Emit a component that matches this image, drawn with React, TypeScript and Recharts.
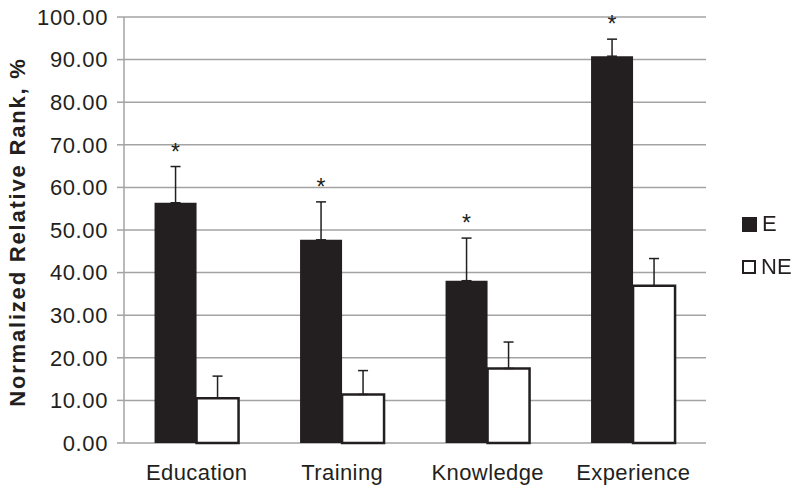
import {
  BarChart,
  Bar,
  XAxis,
  YAxis,
  CartesianGrid,
  ErrorBar,
  LabelList,
  Legend,
} from "recharts";

// Categorías y series
const CATEGORIAS = ["Education", "Training", "Knowledge", "Experience"];
const VALORES_E = [56.4, 47.7, 38.1, 90.8];
const VALORES_NE = [10.5, 11.4, 17.5, 36.9];
// Error (sólo hacia arriba)
const ERROR_E = [8.5, 8.9, 10.0, 4.0];
const ERROR_NE = [5.2, 5.6, 6.2, 6.4];
const SIGNIFICATIVO = [true, true, true, true];
const TICKS_Y = [0, 10, 20, 30, 40, 50, 60, 70, 80, 90, 100];

const TINTA = "#231f20";
const GRIS = "#a3a3a3";
const FUENTE = '"Liberation Sans", Arial, Helvetica, sans-serif';

const datos = CATEGORIAS.map((c, i) => ({
  categoria: c,
  E: VALORES_E[i],
  NE: VALORES_NE[i],
  errE: [0, ERROR_E[i]],
  errNE: [0, ERROR_NE[i]],
}));

// Asterisco sobre la barra E, por encima de la barra de error
function Asterisco(props: any) {
  const { x, y, width, height, value, index } = props;
  if (!SIGNIFICATIVO[index] || !value) return null;
  const errPx = (ERROR_E[index] * height) / value;
  const centro = y - errPx - 19;
  return (
    <text
      x={x + width / 2}
      y={centro + 12}
      textAnchor="middle"
      fontSize={23}
      fontFamily={FUENTE}
      fill={TINTA}
    >
      *
    </text>
  );
}

function Leyenda() {
  const item = (label: string, lleno: boolean) => (
    <div
      key={label}
      style={{ display: "flex", alignItems: "center", height: 30, marginBottom: 13 }}
    >
      <div
        style={{
          width: lleno ? 15 : 10,
          height: lleno ? 15 : 10,
          background: lleno ? TINTA : "#fff",
          border: lleno ? "none" : `2.5px solid ${TINTA}`,
          marginRight: 5,
        }}
      />
      <span style={{ fontSize: 22, fontFamily: FUENTE, color: TINTA }}>{label}</span>
    </div>
  );
  return (
    <div>
      {item("E", true)}
      {item("NE", false)}
    </div>
  );
}

function EtiquetaY(props: any) {
  const { viewBox } = props;
  const cy = viewBox.y + viewBox.height / 2 + 2;
  return (
    <text
      x={17}
      y={cy}
      transform={`rotate(-90, 17, ${cy})`}
      textAnchor="middle"
      dominantBaseline="central"
      fontSize={22}
      fontWeight="bold"
      letterSpacing={1.8}
      fontFamily={FUENTE}
      fill={TINTA}
    >
      Normalized Relative Rank, %
    </text>
  );
}

export default function App() {
  return (
    <div style={{ position: "fixed", left: 0, top: 0, background: "#fff" }}>
      <BarChart
        width={800}
        height={493}
        data={datos}
        margin={{ top: 17, right: 94, bottom: 0, left: 0 }}
        barCategoryGap="21%"
        barGap={0}
      >
        <CartesianGrid vertical={false} stroke={GRIS} strokeWidth={1.5} />
        <XAxis
          dataKey="categoria"
          height={50}
          axisLine={false}
          tickLine={false}
          tickSize={0}
          tickMargin={21}
          tick={{ fontSize: 22, fontFamily: FUENTE, fill: TINTA, letterSpacing: 0.4 }}
        />
        <YAxis
          width={124}
          domain={[0, 100]}
          ticks={TICKS_Y}
          interval={0}
          tickFormatter={(v: number) => v.toFixed(2)}
          axisLine={{ stroke: GRIS, strokeWidth: 1.5 }}
          tickLine={{ stroke: GRIS, strokeWidth: 1.5 }}
          tickSize={7}
          tickMargin={9}
          tick={{ fontSize: 22, fontFamily: FUENTE, fill: TINTA, letterSpacing: 0.6 }}
          label={<EtiquetaY />}
        />
        <Legend
          layout="vertical"
          align="center"
          verticalAlign="middle"
          content={<Leyenda />}
          wrapperStyle={{ left: 742, top: 209, width: 60 }}
        />
        <Bar dataKey="E" fill={TINTA} isAnimationActive={false}>
          <ErrorBar dataKey="errE" width={5} stroke={TINTA} strokeWidth={1.5} />
          <LabelList dataKey="E" content={<Asterisco />} />
        </Bar>
        <Bar
          dataKey="NE"
          fill="#fff"
          stroke={TINTA}
          strokeWidth={2.5}
          isAnimationActive={false}
        >
          <ErrorBar dataKey="errNE" width={5} stroke={TINTA} strokeWidth={1.5} />
        </Bar>
      </BarChart>
    </div>
  );
}
